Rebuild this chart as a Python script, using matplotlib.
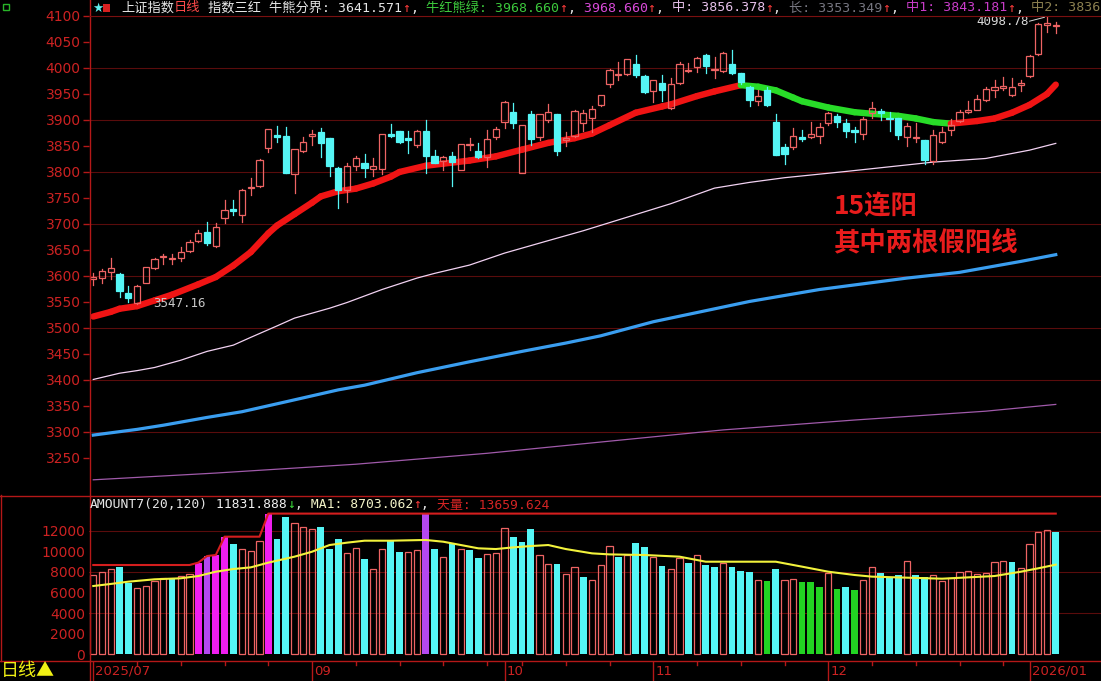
import matplotlib.pyplot as plt
from matplotlib.patches import Rectangle
from matplotlib.collections import LineCollection
from matplotlib.lines import Line2D

# ---- 日K数据 (上证指数, 2025/07/28 起) ----
opens = [3594, 3596, 3607, 3604, 3567, 3549, 3587, 3615, 3636, 3633,
         3635, 3648, 3668, 3684, 3658, 3711, 3729, 3717, 3770, 3773,
         3847, 3871, 3869, 3796, 3841, 3869, 3876, 3866, 3808, 3765,
         3812, 3818, 3805, 3805, 3874, 3878, 3866, 3852, 3878, 3831,
         3821, 3831, 3804, 3851, 3840, 3828, 3868, 3897, 3916, 3799,
         3912, 3867, 3900, 3912, 3862, 3869, 3895, 3903, 3929, 3969,
         3987, 3988, 4008, 3985, 3955, 3972, 3924, 3972, 3994, 4001,
         4025, 3996, 3995, 4008, 3990, 3964, 3937, 3958, 3897, 3849,
         3849, 3868, 3867, 3869, 3894, 3908, 3894, 3880, 3873, 3913,
         3918, 3903, 3903, 3868, 3865, 3862, 3821, 3857, 3880, 3899,
         3916, 3920, 3938, 3958, 3962, 3948, 3967, 3985, 4026, 4083, 4080]
highs = [3605, 3613, 3635, 3606, 3580, 3582, 3617, 3634, 3642, 3642,
         3655, 3669, 3689, 3703, 3701, 3746, 3746, 3767, 3788, 3825,
         3883, 3888, 3886, 3845, 3867, 3881, 3884, 3866, 3809, 3817,
         3831, 3835, 3826, 3874, 3892, 3878, 3878, 3881, 3900, 3842,
         3830, 3839, 3854, 3866, 3855, 3881, 3887, 3937, 3933, 3891,
         3918, 3912, 3930, 3912, 3876, 3919, 3919, 3927, 3949, 3999,
         4011, 4017, 4025, 3987, 3977, 3987, 3980, 4011, 4010, 4021,
         4027, 4022, 4030, 4035, 3991, 3965, 3958, 3964, 3912, 3853,
         3884, 3880, 3896, 3894, 3915, 3912, 3901, 3887, 3905, 3935,
         3922, 3916, 3904, 3894, 3895, 3862, 3881, 3887, 3901, 3919,
         3937, 3948, 3963, 3976, 3983, 3980, 3976, 4025, 4086, 4099, 4089]
lows = [3583, 3586, 3594, 3560, 3550, 3547, 3586, 3613, 3624, 3624,
        3628, 3647, 3665, 3660, 3656, 3701, 3717, 3703, 3756, 3772,
        3839, 3858, 3798, 3759, 3839, 3852, 3828, 3793, 3731, 3743,
        3804, 3791, 3792, 3796, 3867, 3855, 3837, 3848, 3799, 3817,
        3804, 3773, 3803, 3842, 3827, 3809, 3863, 3885, 3885, 3799,
        3852, 3862, 3897, 3833, 3850, 3868, 3878, 3876, 3927, 3963,
        3976, 3987, 3983, 3951, 3935, 3937, 3922, 3970, 3993, 3993,
        3991, 3980, 3993, 3988, 3969, 3926, 3929, 3926, 3832, 3815,
        3844, 3860, 3865, 3855, 3890, 3887, 3868, 3858, 3863, 3903,
        3900, 3878, 3863, 3850, 3858, 3815, 3815, 3855, 3871, 3897,
        3913, 3919, 3937, 3944, 3958, 3946, 3955, 3983, 4025, 4070, 4068]
closes = [3599, 3610, 3615, 3572, 3558, 3581, 3617, 3633, 3638, 3635,
          3647, 3665, 3682, 3664, 3695, 3727, 3725, 3765, 3772, 3824,
          3883, 3868, 3799, 3844, 3857, 3874, 3856, 3812, 3765, 3812,
          3826, 3807, 3812, 3874, 3869, 3858, 3862, 3878, 3830, 3818,
          3828, 3820, 3854, 3853, 3828, 3863, 3882, 3935, 3895, 3890,
          3863, 3911, 3915, 3841, 3865, 3917, 3913, 3922, 3949, 3996,
          3988, 4017, 3987, 3954, 3976, 3958, 3969, 4008, 3997, 4019,
          4004, 3999, 4028, 3990, 3973, 3939, 3946, 3929, 3833, 3835,
          3869, 3863, 3874, 3887, 3913, 3897, 3878, 3876, 3902, 3924,
          3914, 3901, 3871, 3888, 3868, 3823, 3871, 3876, 3890, 3916,
          3919, 3940, 3960, 3963, 3965, 3964, 3971, 4023, 4085, 4086, 4083]
volumes = [7700, 7990, 8250, 8510, 6955, 6405, 6600, 7150, 7440, 7280,
           7600, 7760, 8900, 9540, 9640, 11420, 10710, 10190, 10030, 11000,
           13660, 11190, 13360, 12710, 12330, 12130, 12330, 10190, 11190, 9800,
           10290, 9250, 8250, 10190, 11100, 9930, 9930, 10090, 13600, 10190,
           9410, 10770, 10190, 10130, 9320, 9700, 9800, 12230, 11360, 10870,
           12130, 9600, 8750, 8750, 7800, 8440, 7470, 7210, 8670, 10510,
           9480, 9640, 10840, 10450, 9410, 8570, 8250, 9320, 8900, 9640,
           8670, 8510, 8900, 8510, 8090, 7990, 7210, 7120, 8280, 7210,
           7280, 7020, 7020, 6500, 7860, 6340, 6540, 6240, 7210, 8440,
           7860, 7470, 7700, 9090, 7700, 7470, 7670, 7150, 7380, 7990,
           8090, 7800, 7860, 8960, 9030, 8960, 8350, 10710, 11870, 12070, 11832]
magenta_bars = [13, 15, 16, 21]
purple_bars = [14, 39]
green_bars = [78, 82, 83, 84, 86, 88]

# 牛红熊绿
bull_idx = [1, 3, 4, 6, 8, 10, 13, 15, 17, 19, 21, 22, 24, 26, 27, 29, 31, 33, 35, 36,
            39, 41, 44, 47, 50, 53, 56, 58, 60, 63, 66, 67, 70, 72, 75, 77, 79, 81, 82,
            85, 88, 90, 93, 95, 97, 99, 102, 104, 106, 108, 110, 111]
bull_val = [3522, 3531, 3537, 3542, 3553, 3564, 3584, 3598, 3620, 3646, 3682, 3697, 3719,
            3741, 3753, 3763, 3768, 3778, 3791, 3800, 3812, 3816, 3822, 3830, 3843, 3856,
            3865, 3874, 3890, 3914, 3926, 3930, 3946, 3955, 3967, 3964, 3957, 3943, 3936,
            3924, 3915, 3912, 3908, 3903, 3896, 3893, 3898, 3903, 3914, 3929, 3950, 3968]
# 中
mid_idx = [1, 4, 6, 8, 11, 14, 17, 19, 22, 24, 28, 30, 34, 38, 40, 44, 48, 53, 57, 62,
           67, 72, 76, 80, 87, 92, 97, 103, 108, 111]
mid_val = [3401, 3413, 3418, 3424, 3438, 3455, 3467, 3482, 3504, 3519, 3538, 3549, 3574,
           3596, 3605, 3621, 3644, 3668, 3687, 3713, 3739, 3769, 3780, 3789, 3801, 3810,
           3819, 3826, 3842, 3855]
# 牛熊分界
bound_idx = [1, 6, 9, 14, 18, 23, 29, 32, 38, 44, 50, 55, 59, 65, 76, 84, 94, 100, 107, 111]
bound_val = [3294, 3305, 3313, 3328, 3339, 3358, 3381, 3390, 3414, 3435, 3455, 3471, 3485,
             3512, 3551, 3574, 3596, 3607, 3628, 3641]
# 长
long_idx = [1, 15, 31, 46, 58, 73, 88, 103, 111]
long_val = [3208, 3221, 3238, 3259, 3279, 3304, 3323, 3340, 3353]

# 成交额均线 MA1 与 天量线
ma_idx = [1, 3, 5, 8, 11, 13, 15, 17, 19, 21, 24, 26, 28, 30, 32, 35, 39, 41, 43, 45, 47,
          49, 51, 53, 55, 58, 60, 64, 68, 71, 75, 79, 82, 85, 88, 90, 94, 98, 101, 104,
          107, 109, 111]
ma_val = [6630, 6830, 7050, 7280, 7380, 7600, 8020, 8280, 8440, 8900, 9480, 9960, 10610,
          10840, 11030, 11030, 11100, 10930, 10610, 10290, 10220, 10380, 10510, 10610,
          10220, 9800, 9700, 9640, 9480, 8990, 8990, 8990, 8510, 8020, 7700, 7540, 7440,
          7340, 7470, 7600, 8020, 8350, 8703]
top_idx = [1, 12, 13, 14, 15, 16, 20, 21, 111]
top_val = [8670, 8670, 8900, 9540, 9640, 11420, 11420, 13660, 13660]

month_idx = [1, 26, 48, 65, 85, 108]
month_lbl = ['2025/07', '09', '10', '11', '12', '2026/01']
week_idx = [6, 11, 16, 21, 31, 36, 41, 46, 50, 55, 60, 70, 75, 80, 90, 95, 100, 105]
price_ticks = list(range(3250, 4101, 50))
price_grid = list(range(3250, 4100, 100))
vol_ticks = list(range(0, 12001, 2000))
vol_grid = [4000, 8000, 12000]

head_segs = [('上证指数', '#e6e6e6'), ('日线', '#ff4a4a'), (' 指数三红 牛熊分界: 3641.571', '#e6e6e6'),
             ('↑', '#ff3c3c'), (',', '#e6e6e6'), (' 牛红熊绿: 3968.660', '#3cc83c'),
             ('↑', '#ff3c3c'), (',', '#e6e6e6'), (' 3968.660', '#d84ad8'),
             ('↑', '#ff3c3c'), (',', '#e6e6e6'), (' 中: 3856.378', '#e6c0ea'),
             ('↑', '#ff3c3c'), (',', '#e6e6e6'), (' 长: 3353.349', '#767680'),
             ('↑', '#ff3c3c'), (',', '#e6e6e6'), (' 中1: 3843.181', '#c83cc8'),
             ('↑', '#ff3c3c'), (',', '#e6e6e6'), (' 中2: 3836', '#8c8050')]
vol_segs = [('AMOUNT7(20,120)', '#e6e6e6'), (' 11831.888', '#f0f0f0'), ('↓', '#3cdc3c'),
            (',', '#e6e6e6'), (' MA1: 8703.062', '#f4f4c8'), ('↑', '#ff3c3c'),
            (',', '#e6e6e6'), (' 天量: 13659.624', '#d42424')]

# ---- 样式 ----
UP = '#ee6464'
DN = '#55f5f5'
BULL = '#f01414'
BEAR = '#28dc28'
GRID = '#5a0c0c'
BORDER = '#b41818'
AXLBL = '#cc2222'
MONO = ['DejaVu Sans Mono', 'Noto Sans CJK SC']
CJK = ['Noto Sans CJK SC', 'DejaVu Sans']

W, H = 1101, 681
fig = plt.figure(figsize=(W / 100, H / 100), dpi=100, facecolor='black')


def box(x0, y0, x1, y1):
    a = fig.add_axes([x0 / W, 1 - y1 / H, (x1 - x0) / W, (y1 - y0) / H])
    a.set_facecolor('black')
    for s in a.spines.values():
        s.set_visible(False)
    return a


def fline(xa, ya, xb, yb, color=BORDER, lw=1.0):
    fig.add_artist(Line2D([xa / W, xb / W], [1 - ya / H, 1 - yb / H], color=color, lw=lw,
                          transform=fig.transFigure))


def rich_text(x0, y, segs, size):
    # 各段文字按前缀宽度依次排开
    r = fig.canvas.get_renderer()
    probe = fig.text(0, 0, '', size=size, family=MONO)
    prefix = ''
    for s, col in segs:
        w = 0
        if prefix:
            probe.set_text(prefix)
            w = probe.get_window_extent(r).width
        fig.text((x0 + w) / W, 1 - y / H, s, color=col, size=size, family=MONO, va='center')
        prefix += s
    probe.remove()


n = len(closes)
xs = list(range(1, n + 1))
XL = (0.51, 116.17)

# ---- 主图 ----
ax = box(89, 16, 1101, 495)
ax.set_xlim(*XL)
ax.set_ylim(3178.8, 4100)
ax.set_xticks([])
ax.set_yticks(price_ticks)
ax.set_yticklabels([str(t) for t in price_ticks])
ax.tick_params(axis='y', colors=BORDER, labelcolor=AXLBL, length=4, width=1, pad=2, labelsize=10)
for g in price_grid:
    ax.axhline(g + 50, color=GRID, lw=0.8, zorder=0)

ax.plot(long_idx, long_val, color='#a05aaa', lw=0.9, zorder=1)
ax.plot(bound_idx, bound_val, color='#3a9ef0', lw=2.3, zorder=1)
ax.plot(mid_idx, mid_val, color='#f2d2f2', lw=0.9, zorder=1)

segs, cols = [], []
for k in range(len(bull_idx) - 1):
    segs.append([(bull_idx[k], bull_val[k]), (bull_idx[k + 1], bull_val[k + 1])])
    cols.append(BEAR if bull_val[k + 1] < bull_val[k] else BULL)
ax.add_collection(LineCollection(segs, colors=cols, linewidths=4.6, capstyle='round', zorder=2))

for x, o, h, l, c in zip(xs, opens, highs, lows, closes):
    if c >= o:
        ax.plot([x, x], [l, o], color=UP, lw=0.9, zorder=3)
        ax.plot([x, x], [c, h], color=UP, lw=0.9, zorder=3)
        ax.add_patch(Rectangle((x - 0.36, o), 0.72, c - o, fill=False, edgecolor=UP, lw=0.9, zorder=4))
    else:
        ax.plot([x, x], [l, h], color=DN, lw=0.9, zorder=3)
        ax.add_patch(Rectangle((x - 0.36, c), 0.72, o - c, facecolor=DN, edgecolor=DN, lw=0.9, zorder=4))

hi = highs.index(max(highs))
lo = lows.index(min(lows))
ax.text(xs[hi] - 2.1, 4088.5, '%.2f' % 4098.78, color='#d8d8d8', size=9, family='DejaVu Sans Mono',
        ha='right', va='center')
ax.plot([xs[hi] - 2.0, xs[hi] - 0.3], [4090, 4097.5], color='#d8d8d8', lw=0.7)
ax.text(xs[lo] + 1.8, 3547, '%.2f' % 3547.16, color='#c8c8c8', size=9, family='DejaVu Sans Mono',
        ha='left', va='center')

fig.text(834 / W, 1 - 207 / H, '15连阳', color='#e81c1c', size=19, weight='bold', family=CJK, va='center')
fig.text(834 / W, 1 - 244 / H, '其中两根假阳线', color='#e81c1c', size=19, weight='bold', family=CJK,
         va='center')

# ---- 成交额副图 ----
av = box(89, 496, 1101, 660)
av.set_xlim(*XL)
av.set_ylim(-553, 15369)
av.set_xticks([])
av.set_yticks(vol_ticks)
av.set_yticklabels([str(t) for t in vol_ticks])
av.tick_params(axis='y', colors=BORDER, labelcolor=AXLBL, length=0, pad=3, labelsize=10)
for g in vol_grid:
    av.axhline(g, color=GRID, lw=0.8, zorder=0)

prev = None
for x, v, c in zip(xs, volumes, closes):
    rising = prev is None or c >= prev
    prev = c
    if x in magenta_bars:
        av.bar(x, v, width=0.78, color='#f01ef0', zorder=2)
    elif x in purple_bars:
        av.bar(x, v, width=0.78, color='#b448f0', zorder=2)
    elif x in green_bars:
        av.bar(x, v, width=0.78, color='#22d422', zorder=2)
    elif rising:
        av.bar(x, v, width=0.72, facecolor='none', edgecolor=UP, lw=0.9, zorder=2)
    else:
        av.bar(x, v, width=0.78, color=DN, zorder=2)

av.plot(top_idx, top_val, color='#d41e1e', lw=1.5, zorder=3)
av.plot(ma_idx, ma_val, color='#f2f23c', lw=1.5, zorder=3)

# ---- 日期轴 ----
ad = box(89, 661, 1101, 681)
ad.set_xlim(*XL)
ad.set_ylim(1, 0)
ad.set_xticks([])
ad.set_yticks([])
for m, lbl in zip(month_idx, month_lbl):
    ad.plot([m, m], [0, 1], color=BORDER, lw=1.0)
    ad.text(m + 0.25, 0.52, lbl, color=AXLBL, size=9.5, va='center', ha='left')
for w in week_idx:
    ad.plot([w, w], [0, 0.2], color=BORDER, lw=1.0)

# ---- 边框与标题 ----
fline(89.5, 0, 89.5, 681)
fline(89, 16, 1101, 16, color='#7a1010', lw=0.8)
fline(0, 495.5, 1101, 495.5)
fline(0, 660.5, 1101, 660.5)
fline(0.5, 495, 0.5, 661)

fig.add_artist(Rectangle((3 / W, 1 - 10 / H), 6 / W, 6 / H, transform=fig.transFigure,
                         facecolor='none', edgecolor='#28b428', lw=1))
fig.text(92 / W, 1 - 8 / H, '★', color='#60f0f0', size=9, va='center')
fig.add_artist(Rectangle((103 / W, 1 - 12 / H), 7 / W, 8 / H, transform=fig.transFigure,
                         facecolor='#d82020', edgecolor='none'))
rich_text(121, 8, head_segs, 9.5)
rich_text(90, 505, vol_segs, 9.4)
fig.text(1 / W, 1 - 671 / H, '日线▲', color='#f0f014', size=13, family=CJK, va='center')

fig.savefig('out.png', dpi=100, facecolor='black')
